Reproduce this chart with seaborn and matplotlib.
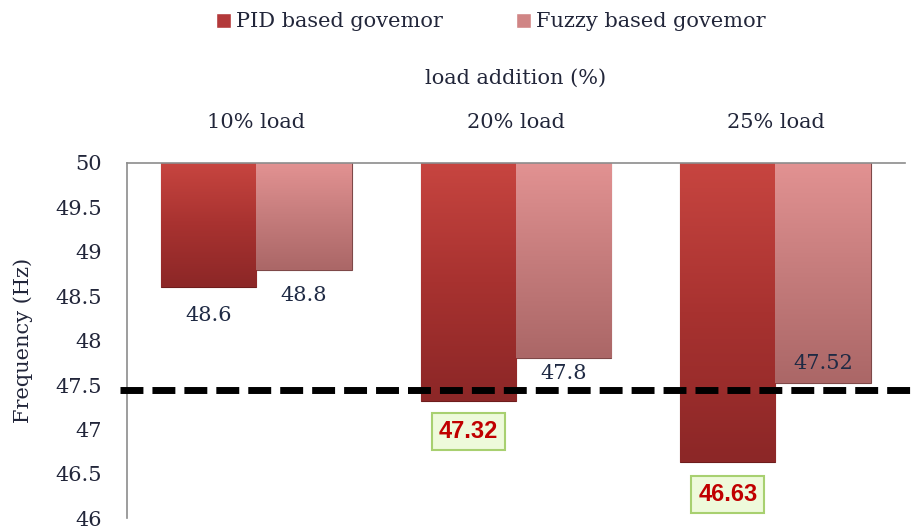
import numpy as np
import pandas as pd
import matplotlib.pyplot as plt
import seaborn as sns
from matplotlib.colors import LinearSegmentedColormap

# data
loads = ['10% load', '20% load', '25% load']
pid_freq = [48.6, 47.32, 46.63]
fuzzy_freq = [48.8, 47.8, 47.52]
series_names = ['PID based govemor', 'Fuzzy based govemor']
nominal = 50
limit = 47.45

df = pd.DataFrame({
    'load': loads * 2,
    'governor': [series_names[0]] * 3 + [series_names[1]] * 3,
    'freq': pid_freq + fuzzy_freq,
})
df['drop'] = df['freq'] - nominal

sns.set_style('white')
plt.rcParams['font.family'] = ['DejaVu Serif']
txt_col = '#22263a'

fig = plt.figure(figsize=(9.18, 5.29), dpi=100)
ax = fig.add_axes([0.138, 0.02, 0.848, 0.672])

base = ['#b3393a', '#d08585']
sns.barplot(data=df, x='load', y='drop', hue='governor', palette=base,
            width=0.734, gap=0, ax=ax, saturation=1, legend=True)

# gradient fills (top light -> bottom dark)
grads = [['#c74540', '#a83230', '#8c2727'], ['#e29292', '#c57c7c', '#ab6767']]
edges = ['#6e1c1c', '#7e4848']
for cont, g, ec in zip(ax.containers, grads, edges):
    cmap = LinearSegmentedColormap.from_list('g', g)
    for bar in cont:
        bar.set_y(nominal)
        bar.set_edgecolor(ec)
        bar.set_linewidth(0.8)
        x0 = bar.get_x()
        w = bar.get_width()
        y1 = nominal + bar.get_height()
        img = ax.imshow(np.linspace(0, 1, 100).reshape(-1, 1), cmap=cmap,
                        extent=[x0, x0 + w, y1, nominal], aspect='auto',
                        origin='upper', zorder=2.5)
        img.set_clip_path(bar)

ax.set_xlim(-0.5, 2.5)
ax.set_ylim(46, 50)
ticks = np.arange(46, 50.01, 0.5)
ax.set_yticks(ticks)
ax.set_yticklabels([f'{v:g}' for v in ticks], fontsize=15, color=txt_col)
ax.tick_params(axis='y', length=0, pad=18)

ax.xaxis.set_ticks_position('top')
ax.xaxis.set_label_position('top')
ax.tick_params(axis='x', length=0, pad=22, labelsize=15, labelcolor=txt_col)
ax.set_xlabel('load addition (%)', fontsize=15, labelpad=21, color=txt_col)
ax.set_ylabel('Frequency (Hz)', fontsize=15, labelpad=16, color=txt_col)

for side in ['right', 'bottom']:
    ax.spines[side].set_visible(False)
for side in ['left', 'top']:
    ax.spines[side].set_color('#8c8c8c')
    ax.spines[side].set_linewidth(1.2)

# dashed limit line
ax.axhline(limit, xmin=-0.009, xmax=1.008, color='black', lw=5,
           dashes=(3.3, 1.3), clip_on=False, zorder=4)

# value labels
offsets = [[-20, -22, -23], [-19, -11, 14]]
boxed = [[False, True, True], [False, False, False]]
for cont, vals, offs, bx in zip(ax.containers, [pid_freq, fuzzy_freq], offsets, boxed):
    for bar, v, dy, b in zip(cont, vals, offs, bx):
        xc = bar.get_x() + bar.get_width() / 2
        if b:
            ax.annotate(f'{v:g}', xy=(xc, v), xytext=(0, dy), textcoords='offset points',
                        ha='center', va='center', fontsize=17, fontweight='bold',
                        color='#c00000', family='Liberation Sans', zorder=6,
                        bbox=dict(boxstyle='square,pad=0.3', fc='#eefadb', ec='#a8d070', lw=1.5))
        else:
            ax.annotate(f'{v:g}', xy=(xc, v), xytext=(0, dy), textcoords='offset points',
                        ha='center', va='center', fontsize=15, color='#1f2a44', zorder=6)

sns.move_legend(ax, 'upper center', bbox_to_anchor=(0.535, 1.012), bbox_transform=fig.transFigure,
                ncol=2, frameon=False, title=None, fontsize=15,
                handlelength=0.72, handleheight=0.72, handletextpad=0.25, columnspacing=3.5)
for t in ax.get_legend().get_texts():
    t.set_color(txt_col)

fig.savefig('out.png', dpi=100)
